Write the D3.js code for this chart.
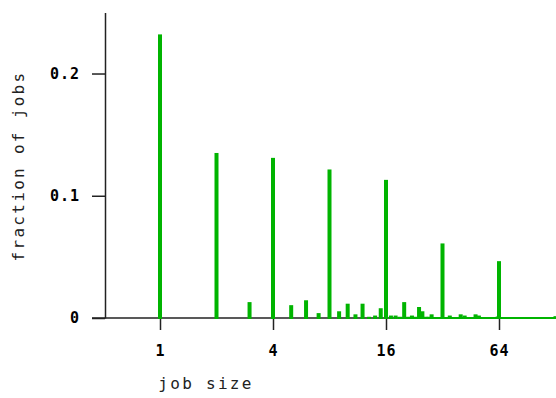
<!DOCTYPE html>
<html>
<head>
<meta charset="utf-8">
<script src="https://cdn.jsdelivr.net/npm/d3@7"></script>
<style>
  html, body { margin: 0; padding: 0; background: #fff; }
  svg { display: block; }
</style>
</head>
<body>
<svg id="chart" width="556" height="398"></svg>
<script>
// job sizes 1..128 (integer categories)
const jobSizes = d3.range(1, 129);
// fraction of jobs for each job size (index 0 = size 1)
const fractions = [
  0.232, 0.135, 0.013, 0.131, 0.0105, 0.0145, 0.004, 0.1215,    // 1-8
  0.0055, 0.0117, 0.003, 0.0117, 0.001, 0.002, 0.008, 0.113,     // 9-16
  0.002, 0.002, 0.001, 0.013, 0.001, 0.002, 0.001, 0.009,        // 17-24
  0.0055, 0.001, 0.001, 0.003, 0.0008, 0.0008, 0.0008, 0.061,    // 25-32
  0.0008, 0.0008, 0.002, 0.0008, 0.0008, 0.0008, 0.0008, 0.003,  // 33-40
  0.0008, 0.002, 0.0008, 0.0008, 0.0008, 0.0008, 0.0008, 0.003,  // 41-48
  0.0008, 0.002, 0.0008, 0.0008, 0.0008, 0.0008, 0.0008, 0.0008, // 49-56
  0.0008, 0.0008, 0.0008, 0.0008, 0.0008, 0.0008, 0.0012, 0.0465,// 57-64
  0.0008, 0.0008, 0.0008, 0.0008, 0.0008, 0.0008, 0.0008, 0.0008,// 65-72
  0.0008, 0.0008, 0.0008, 0.0008, 0.0008, 0.0008, 0.0008, 0.0008,// 73-80
  0.0008, 0.0008, 0.0008, 0.0008, 0.0008, 0.0008, 0.0008, 0.0008,// 81-88
  0.0008, 0.0008, 0.0008, 0.0008, 0.0008, 0.0008, 0.0008, 0.0008,// 89-96
  0.0008, 0.0008, 0.0008, 0.0008, 0.0008, 0.0008, 0.0008, 0.0008,// 97-104
  0.0008, 0.0008, 0.0008, 0.0008, 0.0008, 0.0008, 0.0008, 0.0008,// 105-112
  0.0008, 0.0008, 0.0008, 0.0008, 0.0008, 0.0008, 0.0008, 0.0008,// 113-120
  0.0008, 0.0008, 0.0008, 0.0008, 0.0008, 0.0008, 0.0008, 0.0015 // 121-128
];
const xTicks = [1, 4, 16, 64];
const yTicks = [0, 0.1, 0.2];
const yTickLabels = ["0", "0.1", "0.2"];

const data = jobSizes.map((s, i) => ({ size: s, value: fractions[i] }));

const svg = d3.select("#chart");
const x = d3.scaleLog().base(2).domain([1, 64]).range([160, 499]);
const y = d3.scaleLinear().domain([0, 0.25]).range([318, 12.4]);
const green = "#00b400";
const tickFont = "'DejaVu Sans Mono', 'Liberation Mono', monospace";

// x baseline
svg.append("line")
  .attr("x1", 92).attr("x2", 556)
  .attr("y1", y(0)).attr("y2", y(0))
  .attr("stroke", "#222").attr("stroke-width", 1.5);

// y axis
const yAxis = d3.axisLeft(y)
  .tickValues(yTicks)
  .tickFormat((d, i) => yTickLabels[i])
  .tickSize(13).tickSizeOuter(0).tickPadding(12);
const gy = svg.append("g").attr("transform", "translate(105,0)").call(yAxis);
gy.select(".domain").attr("stroke", "#222").attr("stroke-width", 1.5);
gy.selectAll(".tick line").attr("stroke", "#222").attr("stroke-width", 1.5);
gy.selectAll(".tick text")
  .attr("font-family", tickFont).attr("font-weight", "bold")
  .attr("font-size", 15).attr("letter-spacing", 1).attr("fill", "#000");

// x axis
const xAxis = d3.axisBottom(x)
  .tickValues(xTicks)
  .tickFormat(d3.format("d"))
  .tickSize(12).tickSizeOuter(0).tickPadding(15);
const gx = svg.append("g").attr("transform", `translate(0,${y(0)})`).call(xAxis);
gx.select(".domain").remove();
gx.selectAll(".tick line").attr("stroke", "#222").attr("stroke-width", 1.5);
gx.selectAll(".tick text")
  .attr("font-family", tickFont).attr("font-weight", "bold")
  .attr("font-size", 15).attr("letter-spacing", 1).attr("fill", "#000");

// bars
svg.append("g").selectAll("rect")
  .data(data)
  .join("rect")
  .attr("x", d => x(d.size) - 2)
  .attr("width", 4)
  .attr("y", d => y(d.value))
  .attr("height", d => y(0) - y(d.value) + 1)
  .attr("fill", green);

// axis titles
svg.append("text")
  .attr("x", 206).attr("y", 389)
  .attr("text-anchor", "middle")
  .attr("font-family", tickFont).attr("font-size", 16)
  .attr("letter-spacing", 2.3).attr("fill", "#222")
  .text("job size");

svg.append("text")
  .attr("transform", "translate(24,166) rotate(-90)")
  .attr("text-anchor", "middle")
  .attr("font-family", tickFont).attr("font-size", 16)
  .attr("letter-spacing", 2.3).attr("fill", "#222")
  .text("fraction of jobs");
</script>
</body>
</html>
